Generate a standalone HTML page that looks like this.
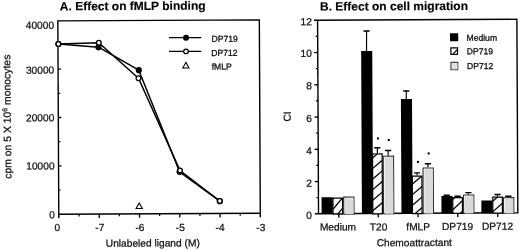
<!DOCTYPE html>
<html><head><meta charset="utf-8"><style>
html,body{margin:0;padding:0;background:#fff;width:520px;height:250px;overflow:hidden}
svg{display:block}
.ax{font-family:"Liberation Sans", sans-serif;font-size:10.2px;fill:#111;stroke:#111;stroke-width:0.25px}
.lg{font-family:"Liberation Sans", sans-serif;font-size:8.6px;fill:#111;stroke:#111;stroke-width:0.3px}
.ttl{font-family:"Liberation Sans", sans-serif;font-size:12px;font-weight:bold;fill:#000;stroke:#000;stroke-width:0.15px}
</style></head><body>
<svg width="520" height="250" viewBox="0 0 520 250">
<defs><clipPath id="hc0"><rect x="332.59" y="198.46" width="9.6" height="15.87"/></clipPath><clipPath id="hc1"><rect x="372.41" y="154.55" width="9.6" height="59.78"/></clipPath><clipPath id="hc2"><rect x="412.05" y="176.84" width="9.6" height="37.48"/></clipPath><clipPath id="hc3"><rect x="452.44" y="198.54" width="9.6" height="15.79"/></clipPath><clipPath id="hc4"><rect x="492.39" y="198.24" width="9.6" height="16.09"/></clipPath><filter id="soft" x="0" y="0" width="100%" height="100%"><feGaussianBlur stdDeviation="0.3"/></filter></defs>
<g filter="url(#soft)"><rect x="0" y="0" width="520" height="250" fill="#fff"/>
<g transform="rotate(-0.28 260.0 125.0)">
<path d="M58.35,19.85 L259.85,19.85 L259.85,217.2" fill="none" stroke="#000" stroke-width="1.4" stroke-linejoin="miter"/>
<path d="M58.35,19.15 L58.35,217.2" fill="none" stroke="#000" stroke-width="1.4" stroke-linejoin="miter"/>
<path d="M58.35,213.2 L259.85,213.2" fill="none" stroke="#000" stroke-width="1.4" stroke-linejoin="miter"/>
<line x1="58.35" y1="164.86" x2="61.35" y2="164.86" stroke="#000" stroke-width="1.3"/>
<line x1="58.35" y1="116.52" x2="61.35" y2="116.52" stroke="#000" stroke-width="1.3"/>
<line x1="58.35" y1="68.19" x2="61.35" y2="68.19" stroke="#000" stroke-width="1.3"/>
<line x1="58.35" y1="189.03" x2="60.35" y2="189.03" stroke="#000" stroke-width="1.2"/>
<line x1="58.35" y1="140.69" x2="60.35" y2="140.69" stroke="#000" stroke-width="1.2"/>
<line x1="58.35" y1="92.36" x2="60.35" y2="92.36" stroke="#000" stroke-width="1.2"/>
<line x1="58.35" y1="44.02" x2="60.35" y2="44.02" stroke="#000" stroke-width="1.2"/>
<line x1="78.65" y1="213.2" x2="78.65" y2="215.6" stroke="#000" stroke-width="1.2"/>
<line x1="98.79" y1="213.2" x2="98.79" y2="217.2" stroke="#000" stroke-width="1.3"/>
<line x1="118.94" y1="213.2" x2="118.94" y2="215.6" stroke="#000" stroke-width="1.2"/>
<line x1="139.08" y1="213.2" x2="139.08" y2="217.2" stroke="#000" stroke-width="1.3"/>
<line x1="159.23" y1="213.2" x2="159.23" y2="215.6" stroke="#000" stroke-width="1.2"/>
<line x1="179.37" y1="213.2" x2="179.37" y2="217.2" stroke="#000" stroke-width="1.3"/>
<line x1="199.52" y1="213.2" x2="199.52" y2="215.6" stroke="#000" stroke-width="1.2"/>
<line x1="219.66" y1="213.2" x2="219.66" y2="217.2" stroke="#000" stroke-width="1.3"/>
<line x1="239.81" y1="213.2" x2="239.81" y2="215.6" stroke="#000" stroke-width="1.2"/>
<text x="54.57" y="27.64" text-anchor="end" class="ax">40000</text>
<text x="54.55" y="72.55" text-anchor="end" class="ax">30000</text>
<text x="54.42" y="120.25" text-anchor="end" class="ax">20000</text>
<text x="54.39" y="168.35" text-anchor="end" class="ax">10000</text>
<text x="54.55" y="217.15" text-anchor="end" class="ax">0</text>
<text x="56.88" y="230.01" text-anchor="middle" class="ax">0</text>
<text x="99.38" y="230.22" text-anchor="middle" class="ax">-7</text>
<text x="139.48" y="230.41" text-anchor="middle" class="ax">-6</text>
<text x="179.78" y="230.61" text-anchor="middle" class="ax">-5</text>
<text x="219.58" y="230.8" text-anchor="middle" class="ax">-4</text>
<text x="260.28" y="231" text-anchor="middle" class="ax">-3</text>
<text x="152.21" y="246.07" text-anchor="middle" class="ax">Unlabeled ligand (M)</text>
<text transform="translate(10.84,115.48) rotate(-90.28)" text-anchor="middle" class="ax" style="font-size:10.4px">cpm on 5 X 10<tspan dy="-3.6" style="font-size:7px">6</tspan><tspan dy="3.6"> monocytes</tspan></text>
<text x="60.36" y="9.42" class="ttl">A. Effect on fMLP binding</text>
<path d="M58.8,43.02 L98.88,46.41 L139.07,69.61 L179.37,171.41 L219.43,201" fill="none" stroke="#000" stroke-width="1.5" stroke-linejoin="round"/>
<path d="M58.8,43.02 L99.2,42.01 L138.73,77.61 L179.78,170.11 L219.43,200.8" fill="none" stroke="#000" stroke-width="1.5" stroke-linejoin="round"/>
<circle cx="58.8" cy="43.02" r="3.1" fill="#000"/>
<circle cx="98.88" cy="46.41" r="3.1" fill="#000"/>
<circle cx="139.07" cy="69.61" r="3.1" fill="#000"/>
<circle cx="179.37" cy="171.41" r="3.1" fill="#000"/>
<circle cx="219.43" cy="201" r="3.1" fill="#000"/>
<circle cx="58.8" cy="43.02" r="2.35" fill="#fff" stroke="#000" stroke-width="1.35"/>
<circle cx="99.2" cy="42.01" r="2.35" fill="#fff" stroke="#000" stroke-width="1.35"/>
<circle cx="138.73" cy="77.61" r="2.35" fill="#fff" stroke="#000" stroke-width="1.35"/>
<circle cx="179.78" cy="170.11" r="2.35" fill="#fff" stroke="#000" stroke-width="1.35"/>
<circle cx="219.43" cy="200.8" r="2.35" fill="#fff" stroke="#000" stroke-width="1.35"/>
<path d="M138.82,202.46 L141.94,207.97 L135.64,207.94 Z" fill="none" stroke="#000" stroke-width="1.08" stroke-linejoin="miter"/>
<line x1="169.43" y1="37.26" x2="201.63" y2="37.41" stroke="#000" stroke-width="1.2"/>
<line x1="169.36" y1="50.96" x2="201.56" y2="51.11" stroke="#000" stroke-width="1.2"/>
<circle cx="186.43" cy="37.34" r="3.05" fill="#000"/>
<circle cx="186.36" cy="51.04" r="2.3" fill="#fff" stroke="#000" stroke-width="1.3"/>
<path d="M186.21,61.99 L189.23,67.6 L183.13,67.57 Z" fill="none" stroke="#000" stroke-width="1.08" stroke-linejoin="miter"/>
<text x="211.91" y="41.56" class="lg">DP719</text>
<text x="211.64" y="55.66" class="lg">DP712</text>
<text x="211.97" y="69.26" class="lg">fMLP</text>
<path d="M314.5,20.55 L517.4,20.55 L517.4,214.05 L314.5,214.05" fill="none" stroke="#000" stroke-width="1.4" stroke-linejoin="miter"/>
<path d="M318.1,20.55 L318.1,214.05" fill="none" stroke="#000" stroke-width="1.4" stroke-linejoin="miter"/>
<line x1="318.1" y1="197.93" x2="316.1" y2="197.93" stroke="#000" stroke-width="1.2"/>
<line x1="318.1" y1="181.8" x2="314.5" y2="181.8" stroke="#000" stroke-width="1.3"/>
<line x1="318.1" y1="165.68" x2="316.1" y2="165.68" stroke="#000" stroke-width="1.2"/>
<line x1="318.1" y1="149.55" x2="314.5" y2="149.55" stroke="#000" stroke-width="1.3"/>
<line x1="318.1" y1="133.43" x2="316.1" y2="133.43" stroke="#000" stroke-width="1.2"/>
<line x1="318.1" y1="117.3" x2="314.5" y2="117.3" stroke="#000" stroke-width="1.3"/>
<line x1="318.1" y1="101.18" x2="316.1" y2="101.18" stroke="#000" stroke-width="1.2"/>
<line x1="318.1" y1="85.05" x2="314.5" y2="85.05" stroke="#000" stroke-width="1.3"/>
<line x1="318.1" y1="68.93" x2="316.1" y2="68.93" stroke="#000" stroke-width="1.2"/>
<line x1="318.1" y1="52.8" x2="314.5" y2="52.8" stroke="#000" stroke-width="1.3"/>
<line x1="318.1" y1="36.68" x2="316.1" y2="36.68" stroke="#000" stroke-width="1.2"/>
<text x="311.44" y="219.1" text-anchor="end" class="ax">0</text>
<text x="311.6" y="186.9" text-anchor="end" class="ax">2</text>
<text x="311.76" y="154.5" text-anchor="end" class="ax">4</text>
<text x="311.91" y="122.3" text-anchor="end" class="ax">6</text>
<text x="312.07" y="89.4" text-anchor="end" class="ax">8</text>
<text x="312.23" y="57.1" text-anchor="end" class="ax">10</text>
<text x="312.39" y="25.5" text-anchor="end" class="ax">12</text>
<line x1="338.4" y1="214.05" x2="338.4" y2="218.05" stroke="#000" stroke-width="1.3"/>
<line x1="377.8" y1="214.05" x2="377.8" y2="218.05" stroke="#000" stroke-width="1.3"/>
<line x1="417.6" y1="214.05" x2="417.6" y2="218.05" stroke="#000" stroke-width="1.3"/>
<line x1="457.4" y1="214.05" x2="457.4" y2="218.05" stroke="#000" stroke-width="1.3"/>
<line x1="497.3" y1="214.05" x2="497.3" y2="218.05" stroke="#000" stroke-width="1.3"/>
<text x="337.48" y="230.88" text-anchor="middle" class="ax">Medium</text>
<text x="378.08" y="231.08" text-anchor="middle" class="ax">T20</text>
<text x="417.68" y="231.07" text-anchor="middle" class="ax">fMLP</text>
<text x="457.08" y="230.96" text-anchor="middle" class="ax">DP719</text>
<text x="496.99" y="230.86" text-anchor="middle" class="ax">DP712</text>
<text x="413.71" y="246.95" text-anchor="middle" class="ax">Chemoattractant</text>
<text transform="translate(290.84,116.65) rotate(-90.28)" text-anchor="middle" class="ax">CI</text>
<text x="320.56" y="10.89" class="ttl">B. Effect on cell migration</text>
<rect x="321.2" y="197.6" width="11.1" height="16.67" fill="#000"/>
<rect x="343.3" y="197.51" width="10.3" height="16.87" fill="#f4f4f4" stroke="#333" stroke-width="1.1"/>
<rect x="344.79" y="198.92" width="8.3" height="15.47" fill="#dadada"/>
<rect x="332.59" y="198.46" width="9.6" height="15.87" fill="#fff" stroke="#000" stroke-width="1.2"/>
<path d="M330.13,170.34 L347.03,150.27 M330.08,180.94 L346.98,160.87 M330.03,191.54 L346.92,171.47 M329.97,202.14 L346.87,182.07 M329.92,212.74 L346.82,192.67 M329.87,223.34 L346.77,203.26 M329.82,233.94 L346.72,213.86" stroke="#000" stroke-width="1.25" fill="none" clip-path="url(#hc0)"/>
<line x1="367.01" y1="31.52" x2="366.91" y2="51.52" stroke="#000" stroke-width="1.15"/>
<line x1="363.91" y1="31.51" x2="370.11" y2="31.54" stroke="#000" stroke-width="1.4"/>
<line x1="377.24" y1="148.37" x2="377.21" y2="153.97" stroke="#000" stroke-width="1.15"/>
<line x1="374.14" y1="148.36" x2="380.34" y2="148.39" stroke="#000" stroke-width="1.4"/>
<line x1="388.02" y1="151.13" x2="388" y2="156.33" stroke="#000" stroke-width="1.15"/>
<line x1="384.92" y1="151.11" x2="391.12" y2="151.14" stroke="#000" stroke-width="1.4"/>
<rect x="361.51" y="51.5" width="11.1" height="162.78" fill="#000"/>
<rect x="383.1" y="156.8" width="10.3" height="57.58" fill="#f4f4f4" stroke="#333" stroke-width="1.1"/>
<rect x="384.59" y="158.21" width="8.3" height="56.18" fill="#dadada"/>
<rect x="372.41" y="154.55" width="9.6" height="59.78" fill="#fff" stroke="#000" stroke-width="1.2"/>
<path d="M369.93,128.89 L386.8,114.69 M369.88,139.49 L386.75,125.29 M369.83,150.09 L386.7,135.89 M369.78,160.69 L386.65,146.49 M369.73,171.29 L386.59,157.09 M369.67,181.89 L386.54,167.69 M369.62,192.49 L386.49,178.29 M369.57,203.09 L386.44,188.89 M369.52,213.69 L386.39,199.49 M369.47,224.29 L386.34,210.09 M369.41,234.89 L386.28,220.69" stroke="#000" stroke-width="1.25" fill="none" clip-path="url(#hc1)"/>
<line x1="406.46" y1="91.72" x2="406.43" y2="99.72" stroke="#000" stroke-width="1.15"/>
<line x1="403.36" y1="91.7" x2="409.56" y2="91.73" stroke="#000" stroke-width="1.4"/>
<line x1="416.86" y1="173.67" x2="416.85" y2="176.27" stroke="#000" stroke-width="1.15"/>
<line x1="413.76" y1="173.65" x2="419.96" y2="173.68" stroke="#000" stroke-width="1.4"/>
<line x1="427.71" y1="164.62" x2="427.69" y2="168.32" stroke="#000" stroke-width="1.15"/>
<line x1="424.61" y1="164.6" x2="430.81" y2="164.64" stroke="#000" stroke-width="1.4"/>
<rect x="401.03" y="99.69" width="11.1" height="114.58" fill="#000"/>
<rect x="422.79" y="168.8" width="10.3" height="45.58" fill="#f4f4f4" stroke="#333" stroke-width="1.1"/>
<rect x="424.28" y="170.2" width="8.3" height="44.18" fill="#dadada"/>
<rect x="412.05" y="176.84" width="9.6" height="37.48" fill="#fff" stroke="#000" stroke-width="1.2"/>
<path d="M409.55,155.28 L426.42,141.08 M409.5,165.88 L426.37,151.68 M409.45,176.48 L426.32,162.28 M409.4,187.08 L426.27,172.88 M409.35,197.68 L426.22,183.48 M409.29,208.28 L426.16,194.08 M409.24,218.88 L426.11,204.68 M409.19,229.48 L426.06,215.28" stroke="#000" stroke-width="1.25" fill="none" clip-path="url(#hc2)"/>
<line x1="446.45" y1="196.11" x2="446.45" y2="196.91" stroke="#000" stroke-width="1.15"/>
<line x1="443.35" y1="196.1" x2="449.55" y2="196.13" stroke="#000" stroke-width="1.4"/>
<line x1="457.25" y1="197.16" x2="457.25" y2="197.96" stroke="#000" stroke-width="1.15"/>
<line x1="454.15" y1="197.15" x2="460.35" y2="197.18" stroke="#000" stroke-width="1.4"/>
<line x1="468.07" y1="193.62" x2="468.06" y2="195.52" stroke="#000" stroke-width="1.15"/>
<line x1="464.97" y1="193.6" x2="471.17" y2="193.63" stroke="#000" stroke-width="1.4"/>
<rect x="441.05" y="196.89" width="11.1" height="17.39" fill="#000"/>
<rect x="463.16" y="195.99" width="10.3" height="18.39" fill="#f4f4f4" stroke="#333" stroke-width="1.1"/>
<rect x="464.65" y="197.4" width="8.3" height="16.99" fill="#dadada"/>
<rect x="452.44" y="198.54" width="9.6" height="15.79" fill="#fff" stroke="#000" stroke-width="1.2"/>
<path d="M449.98,170.88 L466.86,155 M449.93,181.48 L466.8,165.6 M449.87,192.08 L466.75,176.2 M449.82,202.68 L466.7,186.8 M449.77,213.28 L466.65,197.4 M449.72,223.88 L466.6,208 M449.67,234.48 L466.55,218.6" stroke="#000" stroke-width="1.25" fill="none" clip-path="url(#hc3)"/>
<line x1="497.21" y1="195.66" x2="497.2" y2="197.66" stroke="#000" stroke-width="1.15"/>
<line x1="494.11" y1="195.64" x2="500.31" y2="195.68" stroke="#000" stroke-width="1.4"/>
<line x1="508" y1="197.41" x2="507.99" y2="198.41" stroke="#000" stroke-width="1.15"/>
<line x1="504.9" y1="197.4" x2="511.1" y2="197.43" stroke="#000" stroke-width="1.4"/>
<rect x="480.98" y="201.58" width="11.1" height="12.69" fill="#000"/>
<rect x="503.09" y="198.89" width="10.3" height="15.49" fill="#f4f4f4" stroke="#333" stroke-width="1.1"/>
<rect x="504.58" y="200.3" width="8.3" height="14.09" fill="#dadada"/>
<rect x="492.39" y="198.24" width="9.6" height="16.09" fill="#fff" stroke="#000" stroke-width="1.2"/>
<path d="M489.92,172.92 L506.79,157.89 M489.87,183.52 L506.74,168.49 M489.81,194.12 L506.69,179.09 M489.76,204.72 L506.64,189.69 M489.71,215.32 L506.59,200.29 M489.66,225.92 L506.53,210.89 M489.61,236.52 L506.48,221.49" stroke="#000" stroke-width="1.25" fill="none" clip-path="url(#hc4)"/>
<circle cx="377.93" cy="139.08" r="1.15" fill="#000"/>
<circle cx="388.73" cy="140.63" r="1.15" fill="#000"/>
<circle cx="417.82" cy="162.77" r="1.15" fill="#000"/>
<circle cx="428.56" cy="154.32" r="1.15" fill="#000"/>
<rect x="450.45" y="34.23" width="8.2" height="7.9" fill="#000"/>
<rect x="451.27" y="48.93" width="6.6" height="6.4" fill="#fff" stroke="#000" stroke-width="1.25"/>
<line x1="453.34" y1="54.94" x2="457.67" y2="50.57" stroke="#000" stroke-width="1.1"/>
<rect x="451.2" y="63.33" width="6.9" height="7.3" fill="#f2f2f2" stroke="#444" stroke-width="1.15"/>
<rect x="452.5" y="64.54" width="5.2" height="5.8" fill="#dedede"/>
<text x="466.91" y="41.81" class="lg">Medium</text>
<text x="467.14" y="55.31" class="lg">DP719</text>
<text x="467.27" y="70.01" class="lg">DP712</text>
</g></g>
</svg>
</body></html>
